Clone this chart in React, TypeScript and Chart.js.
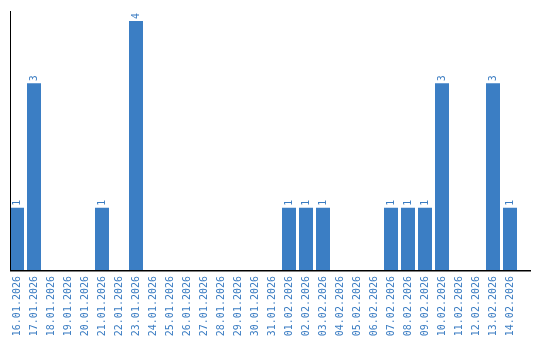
import React, { useEffect, useRef } from "react";
import { Chart, registerables } from "chart.js";

Chart.register(...registerables);

const categories: string[] = [
  "16.01.2026", "17.01.2026", "18.01.2026", "19.01.2026", "20.01.2026",
  "21.01.2026", "22.01.2026", "23.01.2026", "24.01.2026", "25.01.2026",
  "26.01.2026", "27.01.2026", "28.01.2026", "29.01.2026", "30.01.2026",
  "31.01.2026", "01.02.2026", "02.02.2026", "03.02.2026", "04.02.2026",
  "05.02.2026", "06.02.2026", "07.02.2026", "08.02.2026", "09.02.2026",
  "10.02.2026", "11.02.2026", "12.02.2026", "13.02.2026", "14.02.2026",
];

const counts: number[] = [
  1, 3, 0, 0, 0, 1, 0, 4, 0, 0,
  0, 0, 0, 0, 0, 0, 1, 1, 1, 0,
  0, 0, 1, 1, 1, 3, 0, 0, 3, 1,
];

const BLUE = "#3b7ec4";
const TEXT = "#3a7cc2";
const FONT = "DejaVu Sans Mono";

const overlayPlugin = {
  id: "overlay",
  afterDatasetsDraw(chart: any) {
    const { ctx, chartArea } = chart;
    const meta = chart.getDatasetMeta(0);
    const xScale = chart.scales.x;
    ctx.save();
    ctx.fillStyle = TEXT;
    ctx.font = `10px ${FONT}`;
    // data labels
    ctx.textAlign = "left";
    ctx.textBaseline = "middle";
    meta.data.forEach((bar: any, i: number) => {
      const v = counts[i];
      if (!v) return;
      ctx.save();
      ctx.translate(bar.x, bar.y - 2);
      ctx.rotate(-Math.PI / 2);
      ctx.fillText(String(v), 0, 0);
      ctx.restore();
    });
    // category labels
    ctx.textAlign = "right";
    categories.forEach((lab, i) => {
      const x = xScale.getPixelForTick(i);
      ctx.save();
      ctx.translate(x, chartArea.bottom + 6);
      ctx.rotate(-Math.PI / 2);
      ctx.fillText(lab, 0, 0);
      ctx.restore();
    });
    // axis lines
    ctx.strokeStyle = "#000";
    ctx.lineWidth = 1;
    const x0 = meta.data[0].x - meta.data[0].width / 2;
    ctx.beginPath();
    ctx.moveTo(Math.round(x0) + 0.5, chartArea.top);
    ctx.lineTo(Math.round(x0) + 0.5, chartArea.bottom + 1);
    ctx.stroke();
    ctx.lineWidth = 1.5;
    ctx.beginPath();
    ctx.moveTo(Math.round(x0), chartArea.bottom + 0.75);
    ctx.lineTo(531, chartArea.bottom + 0.75);
    ctx.stroke();
    ctx.restore();
  },
};

export default function App() {
  const ref = useRef<HTMLCanvasElement | null>(null);
  useEffect(() => {
    if (!ref.current) return;
    const chart = new Chart(ref.current, {
      type: "bar",
      data: {
        labels: categories,
        datasets: [
          {
            data: counts,
            backgroundColor: BLUE,
            borderWidth: 0,
            categoryPercentage: 1,
            barPercentage: 14 / 17,
          },
        ],
      },
      options: {
        animation: false,
        responsive: false,
        maintainAspectRatio: false,
        layout: { padding: { left: 8.5, right: 21.5, top: 11, bottom: 0 } },
        plugins: { legend: { display: false }, tooltip: { enabled: false } },
        scales: {
          x: {
            grid: { display: false },
            border: { display: false },
            afterFit: (scale: any) => {
              scale.height = 70;
            },
            ticks: { display: false },
          },
          y: {
            display: false,
            min: 0,
            max: 4.16,
          },
        },
      },
      plugins: [overlayPlugin],
    });
    return () => chart.destroy();
  }, []);
  return (
    <div style={{ position: "fixed", left: 0, top: 0, width: 540, height: 340, background: "#fff" }}>
      <canvas ref={ref} width={540} height={340} style={{ width: 540, height: 340 }} />
    </div>
  );
}
